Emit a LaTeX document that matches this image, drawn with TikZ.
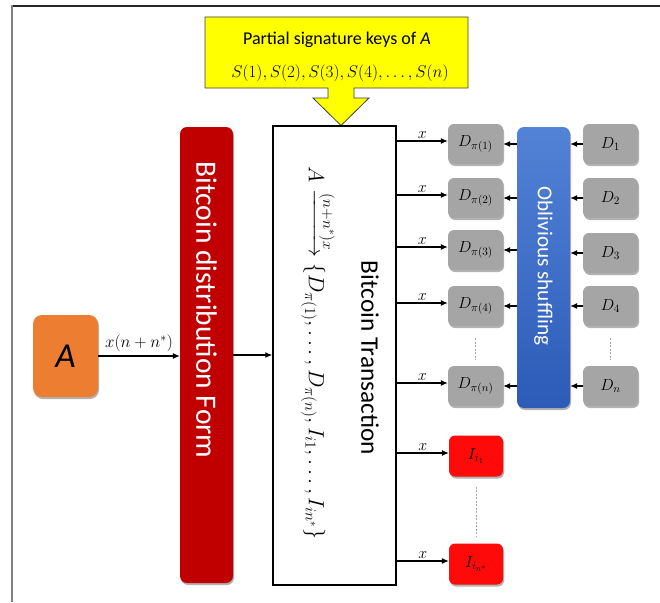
\RequirePackage{fix-cm}
\documentclass[tikz,border=0pt]{standalone}
\usepackage{amsmath}
\usepackage{fontspec}
\setmainfont{Carlito}
\usetikzlibrary{arrows.meta,shadows,calc}
\definecolor{aorange}{HTML}{ED7D31}
\definecolor{darkred}{HTML}{C00000}
\definecolor{boxgray}{HTML}{A5A5A5}
\definecolor{bluetop}{HTML}{5283D6}
\definecolor{bluebot}{HTML}{2C5BB8}
\definecolor{ired}{HTML}{FF0A0A}
\definecolor{yel}{HTML}{FFFF00}
\tikzset{
  shd/.style={drop shadow={shadow xshift=1pt,shadow yshift=-2pt,opacity=0.3,fill=black}},
  gbox/.style={rounded corners=6pt, fill=boxgray, minimum width=55pt, minimum height=40pt, inner sep=0pt, shd, font=\fontsize{16}{18}\selectfont},
  ibox/.style={rounded corners=6pt, fill=ired, minimum width=54pt, minimum height=41pt, inner sep=0pt, shd, font=\fontsize{16}{18}\selectfont},
  arr/.style={-{Latex[length=7pt,width=6pt]}, line width=1.1pt},
  xlab/.style={font=\fontsize{16}{18}\selectfont, inner sep=1pt, above=1pt, midway},
  dsh/.style={gray!70, line width=0.6pt, dash pattern=on 2pt off 1.5pt},
  vtext/.style={rotate=-90, inner sep=0pt}
}
\begin{document}
\begin{tikzpicture}[x=1pt,y=-1pt]
\useasboundingbox (0,0) rectangle (660,602);
% frame
\draw[black!85, line width=1.2pt] (11,6) -- (660,6);
\draw[gray, line width=1.6pt] (12,5) -- (12,602);
% yellow callout
\draw[fill=yel, draw=black!75, line width=0.8pt]
  (205,17) -- (468,17) -- (468,88) -- (354,88) -- (354,98) -- (369,98) -- (341,125.5)
  -- (313,98) -- (328,98) -- (328,88) -- (205,88) -- cycle;
\node[font=\fontsize{18}{20}\selectfont] (P1) at (337,40) {Partial signature keys of \textit{A}};
\node[font=\fontsize{17}{19}\selectfont] (P2) at (340,73) {$S(1),S(2),S(3),S(4),\dots,S(n)$};
% A box
\node[rounded corners=9pt, fill=aorange, minimum width=65pt, minimum height=82pt, inner sep=0pt, shd] (A) at (65.5,356) {\fontsize{35}{35}\selectfont\itshape A};
% red bar
\node[rounded corners=7pt, fill=darkred, minimum width=53pt, minimum height=456pt, inner sep=0pt, shd] (R) at (206.5,355) {};
\node[vtext, text=white, font=\fontsize{29.5}{31}\selectfont] (Rt) at (206.5,310) {Bitcoin distribution Form};
% transaction box
\node[draw=black, line width=1.5pt, fill=white, minimum width=123pt, minimum height=459pt, inner sep=0pt] (T) at (334.5,355.5) {};
\node[vtext, font=\fontsize{25.3}{27}\selectfont] (Tt) at (370,358) {Bitcoin Transaction};
\node[vtext, font=\fontsize{22}{24}\selectfont] (F) at (319,353)
  {$A \xrightarrow{(n+n^*)x} \{D_{\pi(1)},\dots,D_{\pi(n)},I_{i1},\dots,I_{in^*}\}$};
% arrows A -> R -> T
\draw[arr] (A.east) -- (A.east -| R.west) node[xlab, above=2pt, font=\fontsize{17}{19}\selectfont] {$x(n+n^*)$};
\draw[arr] (R.east) -- (R.east -| T.west);
% blue bar
\node[rounded corners=7pt, top color=bluetop, bottom color=bluebot, minimum width=53pt, minimum height=281pt, inner sep=0pt, shd] (B) at (543.5,267.5) {};
\node[vtext, text=white, font=\fontsize{21.2}{23}\selectfont] (Bt) at (543.5,266) {Oblivious shuffling};
% D pi boxes
\node[gbox] (Dp1) at (475.5,144) {$D_{\pi(1)}$};
\node[gbox] (Dp2) at (475.5,198) {$D_{\pi(2)}$};
\node[gbox] (Dp3) at (475.5,250) {$D_{\pi(3)}$};
\node[gbox] (Dp4) at (475.5,306) {$D_{\pi(4)}$};
\node[gbox] (Dpn) at (475.5,386) {$D_{\pi(n)}$};
% D boxes
\node[gbox] (D1) at (610.5,144) {$D_1$};
\node[gbox] (D2) at (610.5,198) {$D_2$};
\node[gbox] (D3) at (610.5,253) {$D_3$};
\node[gbox] (D4) at (610.5,306) {$D_4$};
\node[gbox] (Dn) at (610.5,386) {$D_n$};
% I boxes
\node[ibox] (I1) at (476,456) {$I_{i_1}$};
\node[ibox] (In) at (476,564) {$I_{i_{n^*}}$};
% arrows from T
\foreach \b in {Dp1,Dp2,Dp3,Dp4,Dpn,I1,In}{
  \draw[arr] ([yshift=3pt]\b.west -| T.east) -- ([yshift=3pt]\b.west) node[xlab] {$x$};
}
% shuffling arrows
\foreach \b in {Dp1,Dp2,Dp3,Dp4,Dpn}{
  \draw[arr] (\b.east -| B.west) -- (\b.east);
}
\foreach \b in {D1,D2,D3,D4,Dn}{
  \draw[arr] (\b.west) -- (\b.west -| B.east);
}
% dashed
\draw[dsh] ([yshift=-12pt]Dp4.south) -- ([yshift=6pt]Dpn.north);
\draw[dsh] ([yshift=-12pt]D4.south) -- ([yshift=6pt]Dn.north);
\draw[dsh] ([yshift=-10pt]I1.south) -- ([yshift=6pt]In.north);
\end{tikzpicture}
\end{document}
